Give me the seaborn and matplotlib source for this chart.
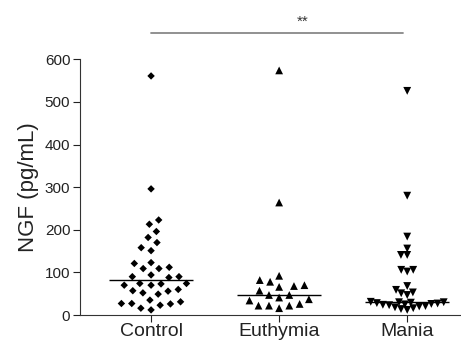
import numpy as np
import pandas as pd
import matplotlib
matplotlib.use("Agg")
import matplotlib.pyplot as plt
from matplotlib.markers import MarkerStyle
from matplotlib.transforms import Affine2D
import seaborn as sns
import warnings
warnings.filterwarnings("ignore")

categories = ["Control", "Euthymia", "Mania"]
control = [561, 296, 223, 213, 196, 182, 170, 158, 151, 123, 121, 112, 109, 109,
           94, 90, 88, 90, 70, 74, 74, 73, 70, 57, 52, 49, 56, 60, 31, 27, 23, 35,
           16, 12, 26, 27]
euthymia = [574, 264, 92, 70, 66, 78, 82, 68, 57, 47, 47, 41, 37, 34, 26, 22, 16,
            22, 22]
mania = [526, 280, 184, 156, 141, 141, 106, 102, 106, 68, 59, 51, 47, 53,
         31, 30, 30, 29, 28, 27, 26, 25, 24, 23, 21, 20, 18, 16, 14, 12]
markers = ["D", "^", "v"]
marker_sizes = [3.8, 5.6, 3.9]
marker_scale = [1.0, 1.0, 1.45]
spacing_pad = [3.3, 1.6, 0.4]
yticks = [0, 100, 200, 300, 400, 500, 600]
sig_text = "**"

sns.set_theme(style="ticks")
plt.rcParams["font.family"] = ["Liberation Sans", "DejaVu Sans"]

df = pd.DataFrame({
    "group": [categories[0]] * len(control) + [categories[1]] * len(euthymia)
             + [categories[2]] * len(mania),
    "NGF": control + euthymia + mania,
})

fig = plt.figure(figsize=(4.61, 3.40), dpi=100)
ax = fig.add_axes([0.1735, 0.0735, 0.8265, 0.752])

for cat, mk, ms, sc, pad in zip(categories, markers, marker_sizes,
                                marker_scale, spacing_pad):
    sub = df[df["group"] == cat]
    style = MarkerStyle(mk, transform=Affine2D().scale(sc))
    sns.swarmplot(data=sub, x="group", y="NGF", order=categories, marker=style,
                  size=ms, color="black", edgecolor="none", linewidth=pad,
                  ax=ax, warn_thresh=1)

for i, cat in enumerate(categories):
    med = np.median(df.loc[df["group"] == cat, "NGF"])
    ax.hlines(med, i - 0.33, i + 0.33, color="black", lw=1.0, zorder=5)

ax.set_xlim(-0.555, 2.42)
ax.set_ylim(0, 600)
ax.set_yticks(yticks)
ax.set_xlabel("")
ax.set_ylabel("NGF (pg/mL)", fontsize=16, color="#222222", labelpad=4)
ax.tick_params(axis="y", labelsize=11, colors="#222222", length=5, width=0.8, pad=2)
ax.tick_params(axis="x", labelsize=14, colors="#222222", length=5, width=0.8, pad=1)
for s in ["top", "right"]:
    ax.spines[s].set_visible(False)
for s in ["left", "bottom"]:
    ax.spines[s].set_color("#333333")
    ax.spines[s].set_linewidth(0.8)

ax.plot([0, 1.97], [662, 662], color="#888888", lw=1.3, clip_on=False)
ax.text(1.18, 672, sig_text, ha="center", va="bottom", fontsize=11,
        color="#333333")

fig.savefig("out.png", dpi=100)
